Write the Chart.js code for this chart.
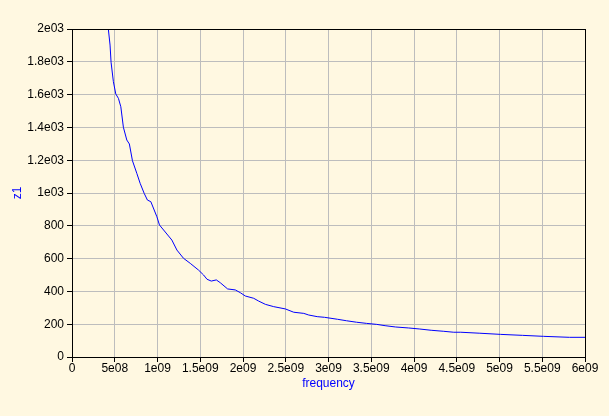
<!DOCTYPE html>
<html>
<head>
<meta charset="utf-8">
<script src="https://cdn.jsdelivr.net/npm/chart.js@4"></script>
<style>
  html, body { margin: 0; padding: 0; background: #fff8e1; }
  canvas { display: block; }
</style>
</head>
<body>
<canvas id="chart" width="609" height="416"></canvas>
<script>
// frequency (Hz) and z1 values
const frequency = [
  0.425e9, 0.445e9, 0.457e9, 0.484e9, 0.512e9, 0.543e9, 0.571e9, 0.601e9,
  0.641e9, 0.671e9, 0.707e9, 0.758e9, 0.797e9, 0.844e9, 0.882e9, 0.922e9,
  0.993e9, 1.023e9, 1.168e9, 1.227e9, 1.304e9, 1.383e9, 1.480e9, 1.539e9,
  1.579e9, 1.629e9, 1.688e9, 1.734e9, 1.820e9, 1.910e9, 1.969e9, 2.027e9,
  2.125e9, 2.183e9, 2.262e9, 2.359e9, 2.496e9, 2.593e9, 2.711e9, 2.769e9,
  2.868e9, 2.953e9, 3.105e9, 3.211e9, 3.328e9, 3.445e9, 3.563e9, 3.662e9,
  3.785e9, 3.938e9, 4.061e9, 4.201e9, 4.342e9, 4.465e9, 4.547e9, 4.770e9,
  5.010e9, 5.268e9, 5.514e9, 5.818e9, 6.0e9
];
const z1 = [
  2000, 1902, 1797, 1679, 1604, 1577, 1526, 1401,
  1323, 1299, 1197, 1120, 1059, 998, 957, 947,
  855, 805, 713, 652, 602, 571, 530, 500,
  474, 463, 470, 453, 415, 409, 392, 372,
  358, 341, 321, 307, 293, 273, 266, 256,
  246, 242, 230, 221, 212, 205, 199, 191,
  183, 177, 171, 163, 157, 151, 151, 145,
  138, 132, 126, 120, 120
];

const xTickLabels = ["0", "5e08", "1e09", "1.5e09", "2e09", "2.5e09", "3e09",
  "3.5e09", "4e09", "4.5e09", "5e09", "5.5e09", "6e09"];
const yTickLabels = ["0", "200", "400", "600", "800", "1e03", "1.2e03",
  "1.4e03", "1.6e03", "1.8e03", "2e03"];

const points = frequency.map((f, i) => ({ x: f, y: z1[i] }));

// cream background and black frame round the plot
const framePlugin = {
  id: "frame",
  beforeDraw(chart) {
    const ctx = chart.ctx;
    ctx.save();
    ctx.fillStyle = "#fff8e1";
    ctx.fillRect(0, 0, chart.width, chart.height);
    ctx.restore();
  },
  afterDraw(chart) {
    const { left, top, right, bottom } = chart.chartArea;
    const ctx = chart.ctx;
    ctx.save();
    ctx.strokeStyle = "#000";
    ctx.lineWidth = 1;
    ctx.strokeRect(Math.round(left) + 0.5, Math.round(top) + 0.5,
      Math.round(right - left), Math.round(bottom - top));
    ctx.restore();
  }
};

const font = { family: "'Liberation Sans', Arial, sans-serif", size: 12 };

new Chart(document.getElementById("chart"), {
  type: "line",
  data: {
    datasets: [{
      label: "z1",
      data: points,
      borderColor: "#0000ff",
      borderWidth: 1,
      pointRadius: 0,
      tension: 0,
      fill: false
    }]
  },
  options: {
    responsive: false,
    animation: false,
    layout: { padding: { top: 29, right: 24, bottom: 0, left: 0 } },
    plugins: { legend: { display: false }, tooltip: { enabled: false } },
    scales: {
      x: {
        type: "linear",
        min: 0,
        max: 6e9,
        afterFit(scale) {
          scale.height = 59;
          scale.paddingLeft = 0;
          scale.paddingRight = 0;
        },
        ticks: {
          stepSize: 5e8,
          maxRotation: 0,
          autoSkip: false,
          padding: -1,
          color: "#000",
          font,
          callback: (v, i) => xTickLabels[i]
        },
        grid: { color: "#bdbdbd", tickColor: "#000", tickLength: 5 },
        border: { color: "#000" },
        title: {
          display: true,
          text: "frequency",
          color: "#0000ff",
          font,
          padding: { top: 0, bottom: 25 }
        }
      },
      y: {
        min: 0,
        max: 2000,
        afterFit(scale) {
          scale.width = 72;
          scale.paddingTop = 0;
          scale.paddingBottom = 0;
        },
        ticks: {
          stepSize: 200,
          padding: 3,
          color: "#000",
          font,
          callback: (v, i) => yTickLabels[i]
        },
        grid: { color: "#bdbdbd", tickColor: "#000", tickLength: 5 },
        border: { color: "#000" },
        title: {
          display: true,
          text: "z1",
          color: "#0000ff",
          font,
          padding: { top: 10, bottom: 0 }
        }
      }
    }
  },
  plugins: [framePlugin]
});
</script>
</body>
</html>
